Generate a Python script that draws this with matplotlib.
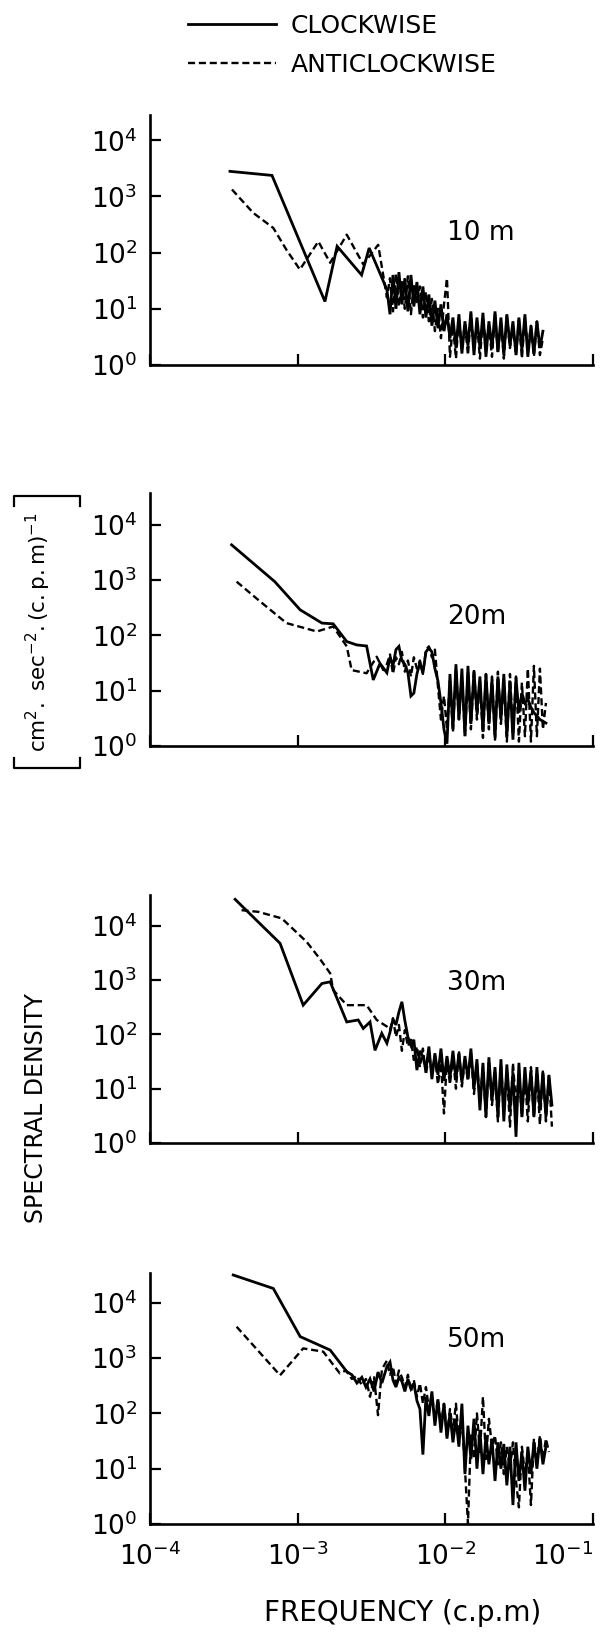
import numpy as np
import matplotlib
matplotlib.use("Agg")
import matplotlib.pyplot as plt
from matplotlib.lines import Line2D

depths = ["10 m", "20m", "30m", "50m"]

# harmonics (c.p.m) for the noisy high-frequency end, shared by all spectra
f_hi = [0.00402, 0.00422, 0.00442, 0.00463, 0.00485, 0.00508, 0.00532, 0.00558,
        0.00585, 0.00612, 0.00642, 0.00673, 0.00705, 0.00739, 0.00774, 0.00811,
        0.00850, 0.00891, 0.00934, 0.00979, 0.01026, 0.01075, 0.01126, 0.0118,
        0.01236, 0.01295, 0.01358, 0.01423, 0.0149, 0.01563, 0.01637, 0.01715,
        0.01798, 0.01884, 0.01973, 0.0207, 0.0217, 0.0227, 0.0238, 0.0249,
        0.0261, 0.0274, 0.0287, 0.0301, 0.0315, 0.0330, 0.0346, 0.0362,
        0.0380, 0.0398, 0.0417, 0.0437, 0.0458, 0.0480, 0.0503, 0.0527]

# ---- 10 m
f_lo_cw_10 = [3.48e-4, 6.7e-4, 1.53e-3, 1.85e-3, 2.71e-3, 3.05e-3]
s_lo_cw_10 = [2800, 2370, 13.5, 130, 40, 121]
s_hi_cw_10 = [22, 8, 40, 10, 45, 12, 35, 9, 40, 11, 30, 8, 25, 7,
              18, 5, 14, 4.5, 12, 4, 8, 3,
              7, 2, 8, 1.6, 6, 2.2, 9, 1.5, 7, 2, 8.5, 1.4, 6, 2, 9, 1.7,
              7, 1.5, 8, 2.2, 6, 1.5, 7, 1.8, 8, 1.4, 5, 1.6, 6, 2, 4]
f_lo_acw_10 = [3.59e-4, 5.0e-4, 6.84e-4, 8.4e-4, 1.035e-3, 1.38e-3, 1.66e-3,
               2.15e-3, 2.78e-3, 3.51e-3]
s_lo_acw_10 = [1330, 510, 275, 112, 50, 158, 66, 209, 62, 138]
s_hi_acw_10 = [16, 35, 9, 42, 11, 30, 10, 38, 8, 28, 12, 25, 7, 20,
               6, 15, 4, 10, 3, 12, 35, 1.4,
               5, 1.3, 7, 2, 5.5, 1.5, 8, 1.8, 6, 1.3, 7, 2.2, 5, 1.4, 8, 1.6,
               6, 1.3, 7.5, 2, 5, 1.5, 6.5, 1.3, 7, 1.8, 5, 1.4, 6, 1.5, 3]

# ---- 20 m
f_lo_cw_20 = [3.57e-4, 7.0e-4, 1.04e-3, 1.46e-3, 1.74e-3, 2.15e-3, 2.51e-3,
              2.93e-3, 3.25e-3, 3.61e-3]
s_lo_cw_20 = [4300, 930, 288, 166, 161, 77, 67, 64, 15.6, 31]
s_hi_cw_20 = [21, 40, 28, 55, 63, 35, 30, 21, 8, 9, 20, 32, 21, 50, 59, 50,
              25, 15, 6, 2, 1.1,
              20, 2, 30, 3, 25, 1.5, 28, 2.5, 22, 4, 18, 1.8, 20, 2.5, 16, 1.4,
              18, 3, 20, 1.5, 15, 1.3, 17, 4, 9, 6, 7, 5, 4, 3.5, 3, 2.8, 2.6]
f_lo_acw_20 = [3.86e-4, 5.4e-4, 8.4e-4, 1.35e-3, 1.74e-3, 2.15e-3, 2.32e-3,
               2.93e-3, 3.43e-3, 3.80e-3]
s_lo_acw_20 = [930, 437, 166, 117, 144, 63, 23.5, 20.6, 41, 23.5]
s_hi_acw_20 = [30, 45, 20, 40, 30, 50, 22, 35, 18, 40, 25, 35, 20, 55, 63, 40,
               55, 12, 3, 8, 2,
               15, 1.8, 25, 3, 18, 1.5, 22, 2, 25, 3, 15, 1.4, 20, 2, 18, 1.3,
               22, 2.5, 16, 1.2, 20, 1.6, 18, 1.2, 14, 1.5, 25, 1.2, 28, 1.5, 25, 2, 6]

# ---- 30 m
f_lo_cw_30 = [3.77e-4, 7.6e-4, 1.09e-3, 1.46e-3, 1.66e-3, 2.15e-3, 2.57e-3,
              2.78e-3, 3.09e-3, 3.34e-3, 3.71e-3]
s_lo_cw_30 = [30900, 4780, 347, 870, 933, 170, 185, 129, 170, 51, 105]
s_hi_cw_30 = [69, 110, 190, 150, 260, 400, 180, 90, 63, 80, 22, 50, 39, 22,
              60, 15, 45, 18, 55, 14, 40, 16, 50, 15, 45, 13, 40, 15, 55, 10,
              35, 4, 30, 3, 38, 6, 25, 3, 35, 2.5, 28, 4, 20, 1.3, 30, 3,
              25, 5, 22, 3, 25, 4, 20, 3, 18, 5]
f_lo_acw_30 = [4.17e-4, 5.4e-4, 7.8e-4, 1.15e-3, 1.41e-3, 1.66e-3, 1.74e-3,
               2.15e-3, 2.93e-3, 3.43e-3]
s_lo_acw_30 = [19500, 18200, 13800, 5100, 2500, 1340, 660, 347, 347, 185]
s_hi_acw_30 = [140, 120, 200, 90, 150, 50, 120, 60, 80, 34, 60, 25, 55, 18,
               45, 20, 40, 12, 30, 3.5, 35, 12, 40, 10, 50, 11, 35, 14, 45, 8,
               30, 6, 25, 3, 30, 5, 20, 2.5, 28, 4, 22, 2, 30, 5, 20, 3,
               18, 2.5, 25, 3, 20, 2.2, 22, 2.5, 18, 2]

# ---- 50 m
f_lo_cw_50 = [3.66e-4, 6.84e-4, 1.04e-3, 1.66e-3, 2.15e-3, 2.33e-3, 2.52e-3,
              2.72e-3, 2.90e-3, 3.09e-3, 3.29e-3, 3.50e-3, 3.72e-3]
s_lo_cw_50 = [31900, 18200, 2450, 1400, 570, 500, 355, 450, 300, 420, 250, 560, 355]
s_hi_cw_50 = [700, 850, 400, 300, 450, 380, 250, 420, 280, 350, 170, 120, 18,
              200, 90, 250, 60, 180, 45, 150, 35, 100, 30, 80, 25, 150, 8,
              60, 15, 80, 10, 50, 8, 40, 12, 35, 6, 30, 10, 28, 5, 25, 2.2,
              30, 6, 20, 4, 25, 8, 30, 10, 35, 12, 25]
f_lo_acw_50 = [3.86e-4, 7.6e-4, 1.09e-3, 1.49e-3, 1.93e-3, 2.12e-3, 2.33e-3,
               2.52e-3, 2.72e-3, 2.90e-3, 3.09e-3, 3.29e-3, 3.50e-3, 3.72e-3]
s_lo_acw_50 = [3700, 490, 1500, 1310, 530, 600, 420, 480, 320, 420, 200, 450, 93, 630]
s_hi_acw_50 = [900, 500, 700, 350, 600, 450, 300, 500, 250, 400, 200, 350, 150,
               300, 120, 220, 80, 180, 60, 150, 40, 120, 50, 150, 30, 80, 10,
               1.0, 40, 15, 100, 20, 200, 15, 80, 25, 40, 12, 30, 8, 25, 10,
               30, 6, 2.0, 25, 8, 20, 2.2, 35, 12, 40, 15, 35, 20]

cw_lo_f = [f_lo_cw_10, f_lo_cw_20, f_lo_cw_30, f_lo_cw_50]
cw_lo_s = [s_lo_cw_10, s_lo_cw_20, s_lo_cw_30, s_lo_cw_50]
cw_hi_s = [s_hi_cw_10, s_hi_cw_20, s_hi_cw_30, s_hi_cw_50]
acw_lo_f = [f_lo_acw_10, f_lo_acw_20, f_lo_acw_30, f_lo_acw_50]
acw_lo_s = [s_lo_acw_10, s_lo_acw_20, s_lo_acw_30, s_lo_acw_50]
acw_hi_s = [s_hi_acw_10, s_hi_acw_20, s_hi_acw_30, s_hi_acw_50]

yticks = [1, 10, 100, 1000, 10000]
xticks = [1e-4, 1e-3, 1e-2, 1e-1]

W, H = 604., 1637.
# axes boxes in pixels: (bottom, top) and top of y range in decades
boxes = [(365, 115, 4.45), (746, 493, 4.57), (1143, 895, 4.57), (1524, 1273, 4.54)]
label_y = [233, 617, 983, 1340]

fig = plt.figure(figsize=(W / 100, H / 100), dpi=100)

lines = []
for i in range(4):
    yb, yt, top = boxes[i]
    ax = fig.add_axes([150 / W, 1 - yb / H, (593 - 150) / W, (yb - yt) / H])
    f_cw = cw_lo_f[i] + f_hi[:len(cw_hi_s[i])]
    s_cw = cw_lo_s[i] + cw_hi_s[i]
    f_acw = acw_lo_f[i] + f_hi[:len(acw_hi_s[i])]
    s_acw = acw_lo_s[i] + acw_hi_s[i]
    l1, = ax.plot(f_cw, s_cw, color="black", lw=2.0, solid_joinstyle="miter")
    l2, = ax.plot(f_acw, s_acw, color="black", lw=1.7, ls=(0, (3, 1.6)))
    if i == 0:
        lines = [l1, l2]
    ax.set_xscale("log")
    ax.set_yscale("log")
    ax.set_xlim(1e-4, 1e-1)
    ax.set_ylim(1, 10 ** top)
    ax.set_yticks(yticks)
    ax.set_yticklabels([r"$10^{%d}$" % k for k in range(5)])
    ax.set_xticks(xticks)
    if i == 3:
        ax.set_xticklabels([r"$10^{-%d}$" % k for k in (4, 3, 2, 1)])
        ax.get_xticklabels()[-1].set_horizontalalignment("right")
    else:
        ax.set_xticklabels([])
    ax.minorticks_off()
    for s in ["top", "right"]:
        ax.spines[s].set_visible(False)
    for s in ["left", "bottom"]:
        ax.spines[s].set_linewidth(1.9)
    ax.tick_params(direction="in", length=8, width=1.6, labelsize=19, pad=9)
    ax.tick_params(axis="x", pad=13)
    ax.text(0.67, (yb - label_y[i]) / (yb - yt), depths[i],
            transform=ax.transAxes, fontsize=19, ha="left", va="center")

fig.legend(handles=lines, labels=["CLOCKWISE", "ANTICLOCKWISE"],
           loc="upper left", bbox_to_anchor=(188 / W, 1 - 14 / H),
           frameon=False, fontsize=18, handlelength=3.5, handletextpad=0.6,
           labelspacing=0.6, borderpad=0, borderaxespad=0)

fig.text(36 / W, 1 - 1108 / H, "SPECTRAL DENSITY", rotation=90,
         ha="center", va="center", fontsize=17)
fig.text(38 / W, 1 - 632 / H,
         r"$\mathrm{cm}^{2}.\ \mathrm{sec}^{-2}.(\mathrm{c.p.m})^{-1}$",
         rotation=90, ha="center", va="center", fontsize=15.5)
# square brackets round the unit
for yb_, sgn in [(768, -1), (496, 1)]:
    xs = [x / W for x in (14, 14, 80, 80)]
    ys = [1 - (yb_ + sgn * 10) / H, 1 - yb_ / H, 1 - yb_ / H, 1 - (yb_ + sgn * 10) / H]
    fig.add_artist(Line2D(xs, ys, color="black", lw=1.6))

fig.text(403 / W, 1 - 1613 / H, "FREQUENCY (c.p.m)", ha="center", va="center",
         fontsize=20)

fig.savefig("out.png", dpi=100)
